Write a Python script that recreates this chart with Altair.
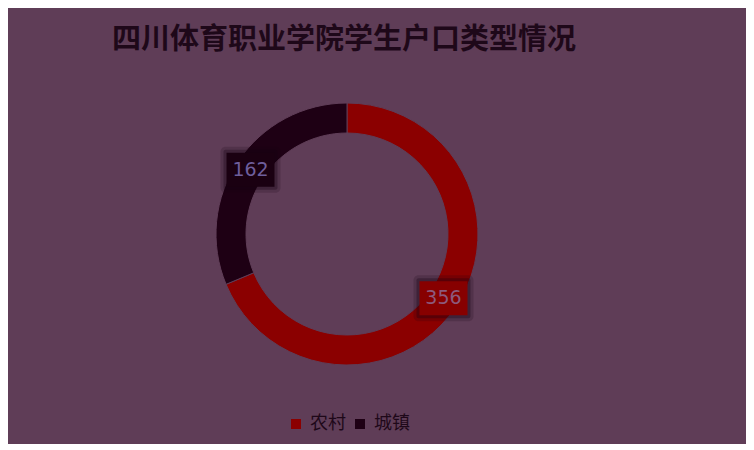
import altair as alt
import pandas as pd

# ---- data ----
categories = ["农村", "城镇"]
counts = [356, 162]
order_idx = [0, 1]

title_text = "四川体育职业学院学生户口类型情况"

# ---- style ----
BG = "#5f3d57"
slice_colors = ["#8b0000", "#1e0014"]
FONT_CJK = "Noto Sans CJK SC"

W, H = 738, 383
CX, CY = 339, 173
R_OUT, R_IN, R_LAB = 131, 101, 116
BOX_W, BOX_H = 24, 17

df = pd.DataFrame({"类型": categories, "人数": counts, "序": order_idx})
base = alt.Chart(df)

arc = base.mark_arc(outerRadius=R_OUT, innerRadius=R_IN, stroke=BG, strokeWidth=1).encode(
    theta=alt.Theta("人数:Q", stack=True),
    order=alt.Order("序:Q"),
    color=alt.Color(
        "类型:N",
        scale=alt.Scale(domain=categories, range=slice_colors),
        legend=alt.Legend(
            title=None,
            orient="none",
            legendX=279,
            legendY=354,
            direction="horizontal",
            symbolType="square",
            symbolSize=100,
            symbolStrokeWidth=0,
            labelFontSize=18,
            labelFont=FONT_CJK,
            labelColor="#1e0819",
            columnPadding=5,
            labelOffset=5,
        ),
    ),
    x=alt.value(CX),
    y=alt.value(CY),
)

pos = (
    base.transform_joinaggregate(total="sum(人数)")
    .transform_window(cum="sum(人数)", sort=[alt.SortField("序")], frame=[None, 0])
    .transform_calculate(
        ang="(datum.cum - datum['人数'] / 2) / datum.total * 2 * PI",
    )
    .transform_calculate(
        px=f"{CX} + {R_LAB} * sin(datum.ang)",
        py=f"{CY} - {R_LAB} * cos(datum.ang)",
    )
    .transform_calculate(
        bx1=f"datum.px - {BOX_W}",
        bx2=f"datum.px + {BOX_W}",
        by1=f"datum.py - {BOX_H}",
        by2=f"datum.py + {BOX_H}",
        sx1=f"datum.px - {BOX_W} - 3",
        sx2=f"datum.px + {BOX_W} + 3",
        sy1=f"datum.py - {BOX_H} - 3",
        sy2=f"datum.py + {BOX_H} + 3",
        tx1=f"datum.px - {BOX_W} - 6",
        tx2=f"datum.px + {BOX_W} + 6",
        ty1=f"datum.py - {BOX_H} - 6",
        ty2=f"datum.py + {BOX_H} + 6",
    )
)

is_rural = "datum['类型'] == '农村'"

shadow_outer = pos.mark_rect(color="#14000f", opacity=0.18, cornerRadius=5).encode(
    x=alt.X("tx1:Q", scale=None, axis=None),
    x2="tx2:Q",
    y=alt.Y("ty1:Q", scale=None, axis=None),
    y2="ty2:Q",
)

shadow = pos.mark_rect(color="#14000f", opacity=0.3, cornerRadius=2).encode(
    x=alt.X("sx1:Q", scale=None, axis=None),
    x2="sx2:Q",
    y=alt.Y("sy1:Q", scale=None, axis=None),
    y2="sy2:Q",
)

box = pos.mark_rect().encode(
    x=alt.X("bx1:Q", scale=None, axis=None),
    x2="bx2:Q",
    y=alt.Y("by1:Q", scale=None, axis=None),
    y2="by2:Q",
    color=alt.condition(is_rural, alt.value("#870000"), alt.value("#1a0011")),
)

labels = pos.mark_text(fontSize=19, font="DejaVu Sans", baseline="middle", align="center").encode(
    x=alt.X("px:Q", scale=None, axis=None),
    y=alt.Y("py:Q", scale=None, axis=None),
    text=alt.Text("人数:Q"),
    color=alt.condition(is_rural, alt.value("#8c5a7c"), alt.value("#6e5e9c")),
)

chart = (
    alt.layer(arc, shadow_outer, shadow, box, labels)
    .properties(
        width=W,
        height=H,
        background=BG,
        padding={"top": 18, "left": 0, "right": 0, "bottom": 0},
        title=alt.TitleParams(
            title_text,
            fontSize=29,
            font=FONT_CJK,
            fontWeight="bold",
            color="#1e0819",
            anchor="start",
            dx=104,
            offset=6,
        ),
    )
    .configure_view(stroke=None)
)

chart.save("out.html", embed_options={"renderer": "svg", "actions": False})
